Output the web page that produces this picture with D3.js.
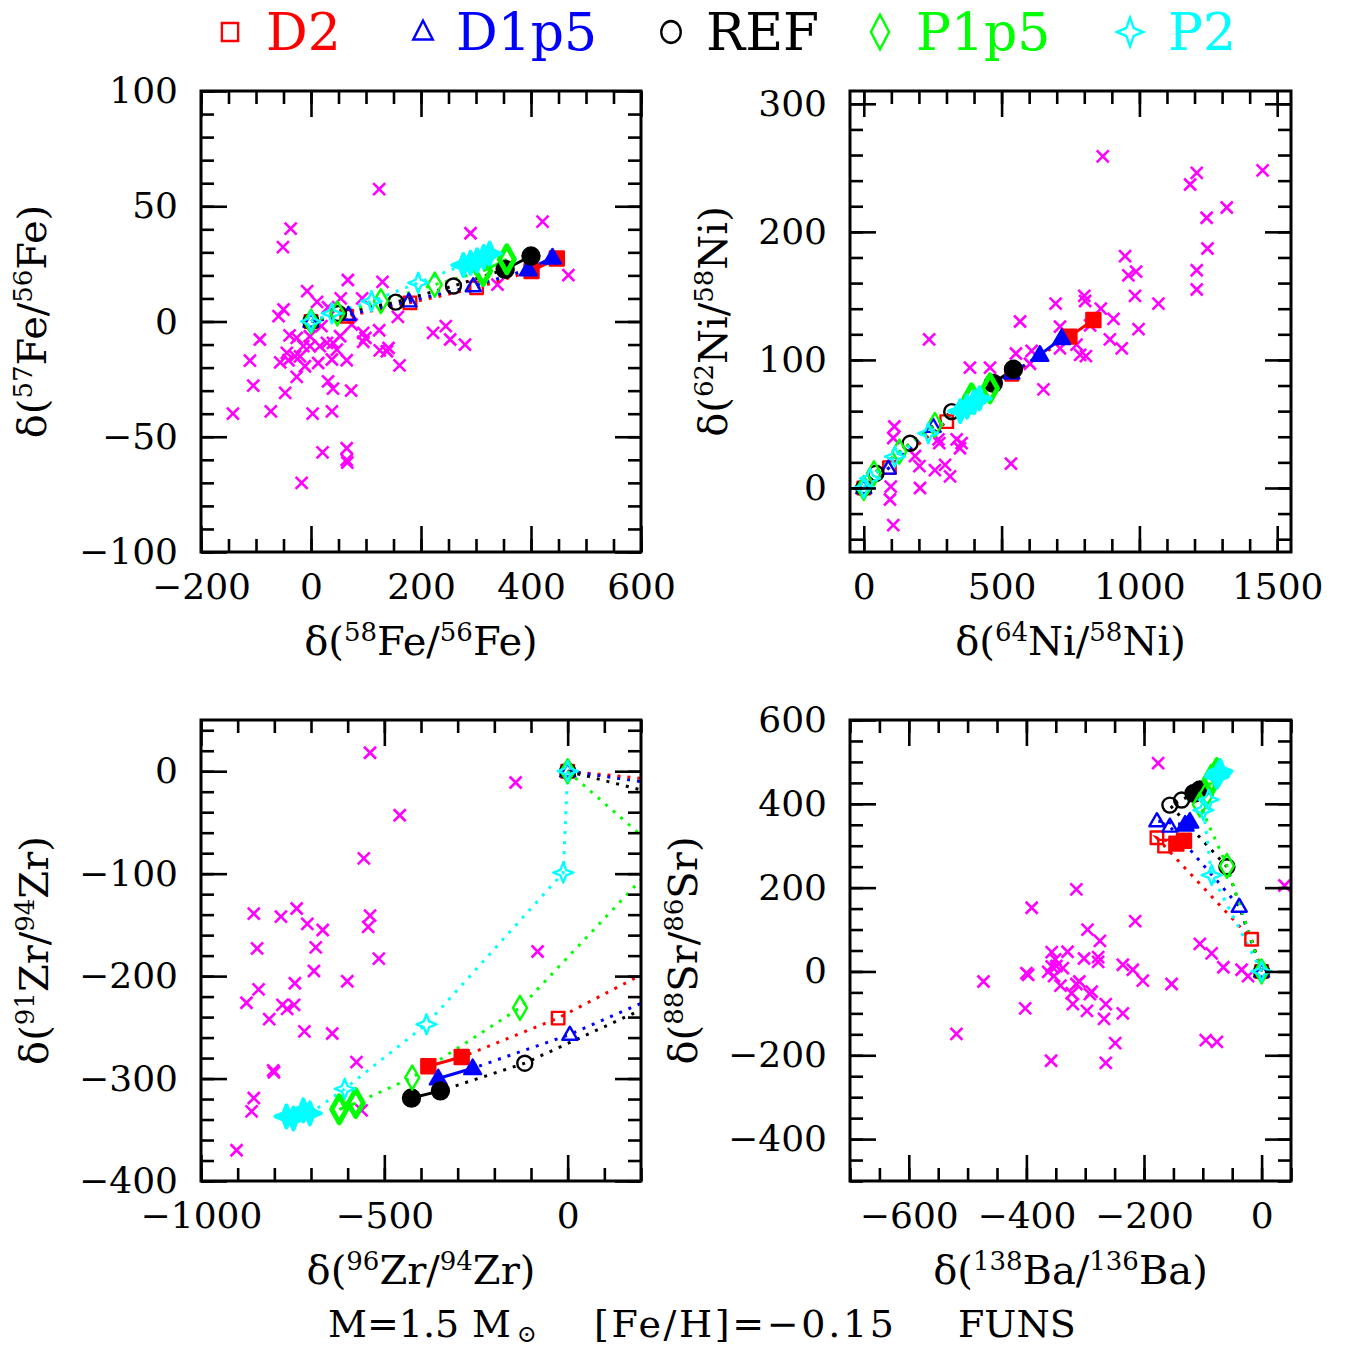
<!DOCTYPE html>
<html>
<head>
<meta charset="utf-8">
<script src="https://cdn.jsdelivr.net/npm/d3@7"></script>
<style>
body { margin: 0; background: #fff; }
text { font-family: "DejaVu Serif", serif; }
</style>
</head>
<body>
<script>

// model names, in legend order
var models = ["D2", "D1p5", "REF", "P1p5", "P2"];
var modelColors = ["#ff0000", "#0000ff", "#000000", "#00ff00", "#00ffff"];
var modelShapes = ["square", "triangle", "circle", "diamond", "star"];

// ---- panel 1: d(57Fe/56Fe) vs d(58Fe/56Fe) ----
var feGrains = [[124,57.4],[-37,40.3],[-51,32.3],[290,38.3],[421,43.3],[468,20.1],[67,18],[130,17.2],
  [-7,13.2],[11,8.5],[54,10],[93,10],[31,6.2],[-50,5.2],[-59,2.3],[158,2],[339,16],[-93,-7.8],
  [-39,-6],[-26,-7.1],[-2,-6.4],[19,-2],[53,-6.4],[74,-1.3],[95,-4.9],[99,-7.1],[124,-3.8],[95,-8.8],
  [222,-4.9],[245,-2],[253,-7.8],[280,-10],[125,-12.5],[141,-11.5],[138,-12.9],[161,-19],[-111,-17],
  [-56,-17.7],[-41,-16.8],[-20,-15.1],[13,-18],[38,-16.5],[65,-16.8],[-11,-19.4],[-26,-24],[31,-26],
  [40,-29.1],[73,-30],[-105,-27.8],[-47,-31],[-142,-40],[-73,-39],[3,-40],[38,-39],[21,-56.8],
  [65,-55],[65,-60],[66,-61.2],[-17,-70],[40,-9.3],[16,-10.7],[-2,-10.7],[-44,-13.6],[-29,-15.1],
  [47,-12.2],[-14,-10.7],[29,-9.3]];
// [x, y, filled]
var feTracks = [
  [[0,0,0],[65,2.3,0],[180,8.1,0],[301,14.6,0],[401,21.9,1],[447,27.3,1]],
  [[0,0,0],[68,3,0],[178,8.8,0],[295,15.4,0],[395,22.6,1],[439,27.7,1]],
  [[0,0,0],[50,3.5,0],[154,8.4,0],[259,15.4,0],[353,22.6,1],[400,28.4,1]],
  [[0,0,0],[48,3.5,0],[127,8.8,0],[225,16,0],[313,21.9,1],[356,27,1]],
  [[0,0,0],[38,3.5,0],[110,8.8,0],[195,16.8,0],[277,24.5,1],[290,25.5,1],[302,26.5,1],[314,28,1],[325,29.5,1]]
];

// ---- panel 2: d(62Ni/58Ni) vs d(64Ni/58Ni) ----
var niGrains = [[867,259],[1208,246],[1184,237],[1447,248],[1317,219],[1244,211],[1247,187],[948,181],
  [960,166],[988,169],[1208,170],[1208,155],[984,150],[1069,144],[696,144],[800,150],[803,146],
  [860,140],[906,132],[821,127],[712,126],[567,130],[997,124],[772,112],[893,116],[936,109],[712,109],
  [785,104],[806,103],[552,105],[609,107],[603,97],[385,94],[458,94],[652,77],[237,116],[111,48],
  [107,39],[271,38],[274,35],[337,38],[355,35],[349,31],[186,25],[202,17],[295,18],[258,14],[313,9],
  [534,19],[98,1],[204,0],[95,-9],[107,-29]];
var niTracks = [
  [[0,0,0],[93,15.9,0],[301,51.8,0],[537,88.8,0],[746,118.2,1],[833,131.2,1]],
  [[0,0,0],[89,15.3,0],[252,47.9,0],[537,89.6,0],[639,103.9,1],[718,116.9,1]],
  [[0,0,0],[44,11.5,0],[168,34.9,0],[319,59.6,0],[470,81.7,1],[543,92.7,1]],
  [[0,0,0],[37,11.5,0],[129,28.4,0],[258,49.2,0],[391,70,1],[458,77.8,1]],
  [[0,0,0],[23,7.5,0],[113,24.5,0],[234,42.7,0],[350,60,1],[375,63.5,1],[400,67,1],[420,70,1]]
];

// ---- panel 3: d(91Zr/94Zr) vs d(96Zr/94Zr) ----
var zrGrains = [[-539,18],[-142,-11],[-458,-43],[-556,-85],[-856,-139],[-782,-142],[-739,-134],
  [-710,-149],[-668,-155],[-539,-141],[-544,-152],[-847,-173],[-687,-172],[-515,-183],[-82,-176],
  [-692,-195],[-744,-207],[-601,-205],[-843,-213],[-876,-226],[-778,-228],[-765,-232],[-746,-228],
  [-814,-242],[-718,-254],[-642,-256],[-576,-284],[-803,-292],[-801,-294],[-856,-319],[-862,-332],
  [-903,-370],[-562,-331]];
var zrTracks = [
  [[0,0,0],[1069,-37,0],[-26,-241,0],[-289,-279,1],[-380,-288,1]],
  [[0,0,0],[1245,-63,0],[6,-257,0],[-259,-290,1],[-353,-300,1]],
  [[0,0,0],[1040,-95,0],[-117,-285,0],[-347,-312,1],[-426,-319,1]],
  [[0,0,0],[263,-82,0],[-130,-231,0],[-424,-299,0],[-578,-324,1],[-623,-330,1]],
  [[0,0,0],[-12,-99,0],[-385,-247,0],[-608,-310,0],[-703,-334,1],[-721,-331,1],[-748,-339,1],[-767,-337,1]]
];

// ---- panel 4: d(88Sr/86Sr) vs d(138Ba/136Ba) ----
var srGrains = [[-176,497],[-315,196],[-391,152],[-215,120],[-296,100],[-275,73],[39,205],[-357,46],
  [-330,47],[-302,31],[-278,34],[-278,23],[-351,29],[-357,12],[-338,8],[-363,-1],[-349,13],[-400,-4],
  [-397,-8],[-353,-11],[-236,16],[-219,4],[-202,-22],[-153,-30],[-105,66],[-85,43],[-65,10],[-34,4],
  [-23,-11],[-473,-24],[-342,-34],[-315,-30],[-310,-24],[-323,-52],[-289,-48],[-292,-54],[-402,-88],
  [-321,-78],[-297,-94],[-265,-78],[-236,-100],[-268,-113],[-519,-149],[-249,-171],[-358,-213],
  [-265,-218],[-95,-164],[-76,-168]];
var srTracks = [
  [[0,0,0],[-17,77,0],[-165,299,0],[-178,319,0],[-145,305,1],[-132,312,1]],
  [[0,0,0],[-38,155,0],[-156,346,0],[-178,359,0],[-130,350,1],[-122,357,1]],
  [[0,0,0],[-59,250,0],[-156,397,0],[-136,409,0],[-115,425,1],[-105,433,1]],
  [[0,0,0],[-59,252,0],[-105,398,0],[-95,420,0],[-85,457,1],[-76,473,1]],
  [[0,0,0],[-85,230,0],[-99,385,0],[-90,410,0],[-76,465,1],[-73,472,1],[-70,478,1]]
];

var w = 1346, h = 1349;
var svg = d3.select("body").append("svg").attr("width", w).attr("height", h);

var fmt = d3.format("d");

// marker outlines centred on 0,0
function shapePath(shape, filled) {
  var k = filled ? 1.12 : 1;
  if (shape == "square") { var s = 12.5 * k; return "M" + (-s/2) + "," + (-s/2) + "h" + s + "v" + s + "h" + (-s) + "Z"; }
  if (shape == "triangle") { var tw = 15 * k, th = 13 * k; return "M0," + (-th*0.6) + "L" + (tw/2) + "," + (th*0.4) + "L" + (-tw/2) + "," + (th*0.4) + "Z"; }
  if (shape == "circle") { var r = filled ? 8.5 : 7.5; return "M" + (-r) + ",0a" + r + "," + r + " 0 1,0 " + (2*r) + ",0a" + r + "," + r + " 0 1,0 " + (-2*r) + ",0Z"; }
  if (shape == "diamond") { var dw = filled ? 15 : 14, dh = filled ? 27 : 24; return "M0," + (-dh/2) + "L" + (dw/2) + ",0L0," + (dh/2) + "L" + (-dw/2) + ",0Z"; }
  // 4-point star
  var ro = filled ? 11 : 10, ri = ro * 0.28;
  return "M0," + (-ro) + "L" + ri + "," + (-ri) + "L" + ro + ",0L" + ri + "," + ri + "L0," + ro +
    "L" + (-ri) + "," + ri + "L" + (-ro) + ",0L" + (-ri) + "," + (-ri) + "Z";
}

function addAxis(axisFn, scale, major, minor, withLabels, transform, pad) {
  var gMaj = svg.append("g")
    .attr("transform", transform)
    .call(axisFn(scale).tickValues(major).tickSize(-26).tickPadding(pad)
      .tickFormat(withLabels ? fmt : function() { return ""; }));
  gMaj.select(".domain").remove();
  gMaj.attr("font-size", 36).attr("font-family", "DejaVu Serif");
  gMaj.selectAll("line").attr("stroke-width", 2.6);
  var gMin = svg.append("g")
    .attr("transform", transform)
    .call(axisFn(scale).tickValues(minor).tickSize(-13).tickFormat(function() { return ""; }));
  gMin.select(".domain").remove();
  gMin.selectAll("line").attr("stroke-width", 2.6);
}

function addTitle(parts, x, y, rotate) {
  var t = svg.append("text")
    .attr("text-anchor", "middle")
    .attr("font-size", 40)
    .attr("transform", "translate(" + x + "," + y + ")" + (rotate ? " rotate(-90)" : ""));
  parts.forEach(function(p) {
    if (p[1]) {
      t.append("tspan").attr("font-size", 26).attr("dy", -14).text(p[0]);
    } else {
      t.append("tspan").attr("dy", p[2] ? 14 : 0).text(p[0]);
    }
  });
}

function drawPanel(cfg, idx) {
  var x = d3.scaleLinear().domain(cfg.xDomain).range([cfg.left, cfg.right]);
  var y = d3.scaleLinear().domain(cfg.yDomain).range([cfg.bottom, cfg.top]);

  svg.append("clipPath").attr("id", "clip" + idx)
    .append("rect")
    .attr("x", cfg.left).attr("y", cfg.top)
    .attr("width", cfg.right - cfg.left).attr("height", cfg.bottom - cfg.top);

  var g = svg.append("g").attr("clip-path", "url(#clip" + idx + ")");

  // grain data
  g.selectAll("path.grain")
    .data(cfg.grains)
    .enter().append("path")
    .attr("class", "grain")
    .attr("d", "M-6,-6L6,6M-6,6L6,-6")
    .attr("transform", function(d) { return "translate(" + x(d[0]) + "," + y(d[1]) + ")"; })
    .attr("stroke", "#ff00ff")
    .attr("stroke-width", 2.6)
    .attr("fill", "none");

  var line = d3.line().x(function(d) { return x(d[0]); }).y(function(d) { return y(d[1]); });

  cfg.tracks.forEach(function(track, m) {
    var col = modelColors[m];
    var firstFilled = track.findIndex(function(d) { return d[2] == 1; });
    var dotted = track.slice(0, firstFilled + 1);
    var solid = track.slice(firstFilled);

    g.append("path")
      .attr("d", line(dotted))
      .attr("fill", "none")
      .attr("stroke", col)
      .attr("stroke-width", 3)
      .attr("stroke-dasharray", "3,7");

    g.append("path")
      .attr("d", line(solid))
      .attr("fill", "none")
      .attr("stroke", col)
      .attr("stroke-width", 3);
  });

  cfg.tracks.forEach(function(track, m) {
    var col = modelColors[m];
    var shape = modelShapes[m];
    g.selectAll("path.mk" + m)
      .data(track)
      .enter().append("path")
      .attr("class", "mk" + m)
      .attr("d", function(d) { return shapePath(shape, d[2] == 1); })
      .attr("transform", function(d) { return "translate(" + x(d[0]) + "," + y(d[1]) + ")"; })
      .attr("fill", function(d) {
        if (d[2] != 1 || shape == "diamond") return "none";
        return col;
      })
      .attr("stroke", col)
      .attr("stroke-width", function(d) {
        if (d[2] == 1 && shape == "diamond") return 5;
        if (d[2] == 1 && shape == "star") return 4;
        return 2.4;
      })
      .attr("stroke-linejoin", "round");
  });

  // axes, ticks inward on all four sides
  addAxis(d3.axisBottom, x, cfg.xMajor, cfg.xMinor, true, "translate(0," + cfg.bottom + ")", 21);
  addAxis(d3.axisTop, x, cfg.xMajor, cfg.xMinor, false, "translate(0," + cfg.top + ")", 0);
  addAxis(d3.axisLeft, y, cfg.yMajor, cfg.yMinor, true, "translate(" + cfg.left + ",0)", 23);
  addAxis(d3.axisRight, y, cfg.yMajor, cfg.yMinor, false, "translate(" + cfg.right + ",0)", 0);

  svg.append("rect")
    .attr("x", cfg.left).attr("y", cfg.top)
    .attr("width", cfg.right - cfg.left).attr("height", cfg.bottom - cfg.top)
    .attr("fill", "none").attr("stroke", "#000").attr("stroke-width", 3);

  addTitle(cfg.xTitle, (cfg.left + cfg.right) / 2, cfg.bottom + 103, false);
  addTitle(cfg.yTitle, cfg.yTitleX, (cfg.top + cfg.bottom) / 2, true);
}

var panels = [
  { left: 201, right: 641, top: 91, bottom: 552,
    xDomain: [-200, 600], yDomain: [-100, 100],
    xMajor: [-200, 0, 200, 400, 600], xMinor: d3.range(-200, 601, 50),
    yMajor: [-100, -50, 0, 50, 100], yMinor: d3.range(-100, 101, 10),
    grains: feGrains, tracks: feTracks,
    xTitle: [["δ("], ["58", 1], ["Fe/", 0, 1], ["56", 1], ["Fe)", 0, 1]],
    yTitle: [["δ("], ["57", 1], ["Fe/", 0, 1], ["56", 1], ["Fe)", 0, 1]], yTitleX: 46 },
  { left: 850, right: 1291, top: 91, bottom: 552,
    xDomain: [-50, 1550], yDomain: [-50, 310],
    xMajor: [0, 500, 1000, 1500], xMinor: d3.range(0, 1501, 100),
    yMajor: [0, 100, 200, 300], yMinor: d3.range(-40, 301, 20),
    grains: niGrains, tracks: niTracks,
    xTitle: [["δ("], ["64", 1], ["Ni/", 0, 1], ["58", 1], ["Ni)", 0, 1]],
    yTitle: [["δ("], ["62", 1], ["Ni/", 0, 1], ["58", 1], ["Ni)", 0, 1]], yTitleX: 727 },
  { left: 201, right: 641, top: 720, bottom: 1181,
    xDomain: [-1000, 200], yDomain: [-400, 50],
    xMajor: [-1000, -500, 0], xMinor: d3.range(-1000, 201, 100),
    yMajor: [-400, -300, -200, -100, 0], yMinor: d3.range(-400, 41, 20),
    grains: zrGrains, tracks: zrTracks,
    xTitle: [["δ("], ["96", 1], ["Zr/", 0, 1], ["94", 1], ["Zr)", 0, 1]],
    yTitle: [["δ("], ["91", 1], ["Zr/", 0, 1], ["94", 1], ["Zr)", 0, 1]], yTitleX: 48 },
  { left: 850, right: 1291, top: 720, bottom: 1181,
    xDomain: [-700, 50], yDomain: [-500, 600],
    xMajor: [-600, -400, -200, 0], xMinor: d3.range(-700, 51, 50),
    yMajor: [-400, -200, 0, 200, 400, 600], yMinor: d3.range(-500, 601, 50),
    grains: srGrains, tracks: srTracks,
    xTitle: [["δ("], ["138", 1], ["Ba/", 0, 1], ["136", 1], ["Ba)", 0, 1]],
    yTitle: [["δ("], ["88", 1], ["Sr/", 0, 1], ["86", 1], ["Sr)", 0, 1]], yTitleX: 697 }
];

panels.forEach(drawPanel);

// legend across the top
var legendSymX = [230, 423, 671, 880, 1130];
var legendTextX = [266, 456, 706, 916, 1168];
models.forEach(function(name, i) {
  var s = svg.append("g").attr("transform", "translate(" + legendSymX[i] + ",32) scale(1.3,1.45)");
  s.append("path")
    .attr("d", shapePath(modelShapes[i], false))
    .attr("fill", "none")
    .attr("stroke", modelColors[i])
    .attr("stroke-width", 1.8);
  svg.append("text")
    .attr("x", legendTextX[i]).attr("y", 50)
    .attr("font-size", 52)
    .attr("fill", modelColors[i])
    .text(name);
});

// bottom note
var note = svg.append("g").attr("font-size", 38);
note.append("text").attr("x", 328).attr("y", 1337).text("M=1.5");
note.append("text").attr("x", 472).attr("y", 1337).text("M");
note.append("text").attr("x", 517).attr("y", 1342).attr("font-size", 24).text("⊙");
note.append("text").attr("x", 594).attr("y", 1337).attr("textLength", 300).text("[Fe/H]=−0.15");
note.append("text").attr("x", 958).attr("y", 1337).text("FUNS");

</script>
</body>
</html>
